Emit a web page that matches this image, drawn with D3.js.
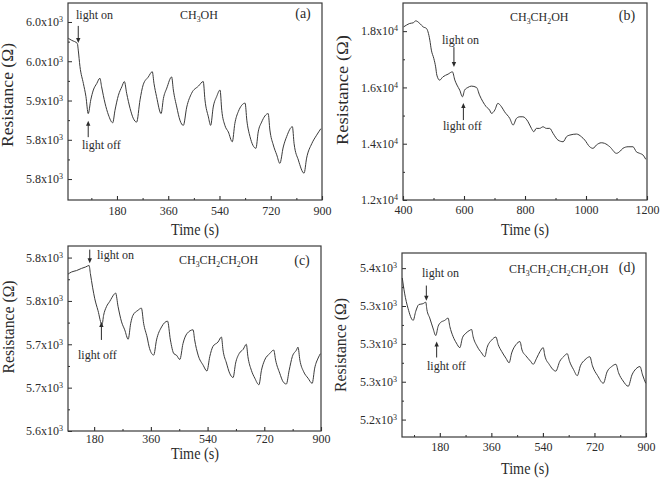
<!DOCTYPE html>
<html><head><meta charset="utf-8">
<script src="https://cdn.jsdelivr.net/npm/d3@7"></script>
<style>html,body{margin:0;padding:0;background:#fff}svg{display:block}</style>
</head><body><svg id="chart" width="661" height="478"></svg>
<script>
// ---------- data (a) CH3OH ----------
const timeA = [9,21,41,44,50,62,71,79,88,97,109,120,126,138,150,165,173,185,197,206,214,226,237,249,261,272,290,304,310,319,335,343,355,372,378,390,401,413,425,442,466,483,489,501,509,518,530,542,548,559,571,585,594,606,630,636,647,668,676,688,711,717,729,741,752,764,776,796,802,817,837,846,864,881,896];
const resA = [5995,5992,5987,5977,5952,5926,5906,5880,5901,5916,5926,5934,5921,5896,5878,5866,5885,5908,5921,5929,5911,5888,5873,5867,5901,5924,5936,5944,5926,5906,5880,5903,5919,5936,5916,5890,5870,5862,5890,5911,5922,5929,5901,5875,5862,5890,5906,5916,5885,5862,5852,5837,5865,5883,5896,5870,5845,5827,5852,5867,5880,5855,5832,5817,5804,5829,5845,5860,5834,5809,5789,5812,5834,5847,5857];
const xTicksA = [180,360,540,720,900];
const xMinorA = [90,270,450,630,810];
const yTicksA = [5780,5840,5900,5960,6020];
const yLabelsA = ["5.8","5.8","5.9","6.0","6.0"];
const yMinorA = [5810,5870,5930,5990];

// ---------- data (b) CH3CH2OH ----------
const timeB = [402,411,422,433,442,455,466,477,482,488,493,501,507,511,520,531,548,562,570,577,586,595,602,613,624,641,651,662,673,684,690,701,711,723,733,750,761,772,783,793,810,821,829,837,848,859,870,881,892,908,925,936,947,969,985,996,1012,1023,1034,1050,1061,1078,1100,1110,1121,1138,1154,1165,1176,1187,1196];
const resB = [18152,18212,18273,18294,18365,18273,18152,18095,17975,17680,17325,17030,16732,16437,16260,16377,16473,16555,16260,16083,15905,15667,15905,16000,16047,16000,15727,15490,15312,15195,15078,15195,15433,15312,15135,14900,14662,14900,14957,14957,14780,14545,14425,14545,14545,14602,14545,14545,14368,14130,14070,14247,14307,14343,14247,14130,13892,13835,13952,14034,14013,13892,13658,13715,13835,13892,13892,13715,13658,13597,13445];
const xTicksB = [400,600,800,1000,1200];
const xMinorB = [500,700,900,1100];
const yTicksB = [12000,14000,16000,18000];
const yLabelsB = ["1.2","1.4","1.6","1.8"];
const yMinorB = [13000,15000,17000];

// ---------- data (c) CH3CH2CH2OH ----------
const timeC = [97,108,124,140,153,164,168,175,182,192,205,210,219,229,245,248,256,267,277,288,296,303,319,330,337,348,356,369,378,394,413,422,433,441,452,462,475,494,499,510,526,538,547,557,573,584,589,600,610,621,629,640,653,663,668,679,690,703,711,721,737,750,756,769,780,790,799,809,822,827,833,845,859,872,880,891,898];
const resC = [5817,5820,5822,5825,5827,5829,5818,5799,5783,5767,5747,5760,5772,5779,5790,5791,5772,5751,5740,5727,5749,5760,5767,5770,5749,5730,5714,5705,5726,5744,5752,5726,5707,5705,5699,5721,5735,5740,5726,5705,5691,5683,5703,5717,5723,5730,5712,5694,5680,5674,5694,5707,5713,5720,5703,5684,5673,5664,5684,5698,5707,5712,5698,5680,5668,5665,5684,5703,5712,5716,5698,5682,5673,5666,5687,5701,5707];
const xTicksC = [180,360,540,720,900];
const xMinorC = [270,450,630,810];
const yTicksC = [5600,5660,5720,5780,5840];
const yLabelsC = ["5.6","5.7","5.7","5.8","5.8"];
const yMinorC = [5630,5690,5750,5810];

// ---------- data (d) CH3CH2CH2CH2OH ----------
const timeD = [49,57,69,87,96,107,121,131,135,145,156,166,174,182,197,209,215,226,238,250,259,271,285,291,296,310,326,337,345,361,376,384,396,411,422,431,446,460,467,481,497,506,518,530,541,547,562,585,599,612,625,633,647,660,671,687,704,713,731,751,764,780,795,804,820,838,851,865,879,888,899];
const resD = [5387,5367,5347,5331,5343,5352,5353,5355,5345,5334,5321,5311,5323,5328,5331,5334,5323,5310,5301,5295,5308,5314,5318,5319,5310,5297,5288,5283,5295,5305,5309,5299,5290,5281,5275,5288,5299,5303,5292,5284,5277,5273,5281,5290,5295,5284,5273,5264,5277,5283,5287,5277,5266,5258,5271,5279,5283,5271,5258,5248,5263,5270,5273,5262,5251,5244,5259,5267,5270,5259,5248];
const xTicksD = [180,360,540,720,900];
const xMinorD = [90,270,450,630,810];
const yTicksD = [5200,5250,5300,5350,5400];
const yLabelsD = ["5.2","5.3","5.3","5.3","5.4"];
const yMinorD = [5225,5275,5325,5375];

// annotation arrows in data units: [time, fromValue, toValue(tip)]
const arrowsA = [[44,6014,5988],[79,5844,5869]];
const arrowsB = [[567,17432,16722],[598,14840,15444]];
const arrowsC = [[166,5851,5832],[203,5726,5751]];
const arrowsD = [[133,5377,5357],[169,5282,5303]];

const FONT = "'Liberation Serif','Times New Roman',serif";
const INK = "#2b2b2b";
const svg = d3.select("#chart");
svg.append("rect").attr("width",661).attr("height",478).attr("fill","#fff");

function addRich(g, parts, x, y, size, anchor){
  const t = g.append("text").attr("x",x).attr("y",y).attr("font-family",FONT)
    .attr("font-size",size).attr("fill",INK).attr("text-anchor",anchor||"start");
  let shifted = false;
  parts.forEach(p=>{
    const isSub = /^[0-9]$/.test(p);
    const ts = t.append("tspan").text(p);
    if(isSub){ ts.attr("font-size",size*0.65).attr("dy", shifted?0:3); shifted=true; }
    else { if(shifted){ ts.attr("dy",-3); shifted=false; } }
  });
  return t;
}

function drawPanel(p){
  const x = d3.scaleLinear().domain(p.xDomain).range([p.left,p.right]);
  const y = d3.scaleLinear().domain(p.yDomain).range([p.bottom,p.top]);
  const g = svg.append("g");

  // x axis major
  const ax = g.append("g").attr("transform",`translate(0,${p.bottom})`)
    .call(d3.axisBottom(x).tickValues(p.xTicks).tickSize(-4).tickPadding(p.xPad).tickFormat(d3.format("d")));
  ax.select(".domain").remove();
  ax.attr("font-family",FONT).attr("font-size",12).attr("color",INK);
  ax.selectAll(".tick line").attr("stroke-width",1.1);
  const axm = g.append("g").attr("transform",`translate(0,${p.bottom})`)
    .call(d3.axisBottom(x).tickValues(p.xMinor).tickSize(-2).tickFormat(""));
  axm.select(".domain").remove(); axm.attr("color",INK);

  // y axis major
  const ay = g.append("g").attr("transform",`translate(${p.left},0)`)
    .call(d3.axisLeft(y).tickValues(p.yTicks).tickSize(-4).tickPadding(5));
  ay.select(".domain").remove();
  ay.attr("font-family",FONT).attr("font-size",12).attr("color",INK);
  ay.selectAll(".tick text").each(function(d,i){
    const t = d3.select(this); t.text(null);
    t.append("tspan").text(p.yLabels[i]+"x10");
    t.append("tspan").attr("dy","-0.5em").attr("font-size",8).text(p.yExp);
  });
  const aym = g.append("g").attr("transform",`translate(${p.left},0)`)
    .call(d3.axisLeft(y).tickValues(p.yMinor).tickSize(-2).tickFormat(""));
  aym.select(".domain").remove(); aym.attr("color",INK);

  // frame
  g.append("rect").attr("x",p.left).attr("y",p.top).attr("width",p.right-p.left)
    .attr("height",p.bottom-p.top).attr("fill","none").attr("stroke","#3a3a3a").attr("stroke-width",1.2);

  // data line
  const pts = p.time.map((t,i)=>[t,p.res[i]]);
  g.append("path").datum(pts).attr("fill","none").attr("stroke","#3a3a3a").attr("stroke-width",1)
    .attr("stroke-linejoin","round")
    .attr("d", d3.line().curve(d3.curveMonotoneX).x(d=>x(d[0])).y(d=>y(d[1])));

  // arrows
  p.arrows.forEach(a=>{
    const ax0 = x(a[0]), y0 = y(a[1]), y1 = y(a[2]);
    const dir = y1>y0 ? 1 : -1;
    g.append("line").attr("x1",ax0).attr("x2",ax0).attr("y1",y0).attr("y2",y1-dir*4)
      .attr("stroke",INK).attr("stroke-width",1);
    g.append("path").attr("d",`M${ax0-2.2},${y1-dir*5}L${ax0+2.2},${y1-dir*5}L${ax0},${y1}Z`).attr("fill",INK);
  });

  // annotation texts
  g.append("text").attr("x",p.onPos[0]).attr("y",p.onPos[1]).attr("font-family",FONT)
    .attr("font-size",12).attr("fill",INK).text("light on");
  g.append("text").attr("x",p.offPos[0]).attr("y",p.offPos[1]).attr("font-family",FONT)
    .attr("font-size",12).attr("fill",INK).text("light off");
  addRich(g, p.formula, p.formPos[0], p.formPos[1], 12, "start");
  g.append("text").attr("x",p.tagPos[0]).attr("y",p.tagPos[1]).attr("font-family",FONT)
    .attr("font-size",14).attr("fill",INK).attr("text-anchor","middle").text(p.tag);

  // axis titles
  g.append("text").attr("x",p.xTitle[0]).attr("y",p.xTitle[1]).attr("font-family",FONT)
    .attr("font-size",16).attr("fill",INK).attr("text-anchor","middle")
    .attr("textLength",48).attr("lengthAdjust","spacingAndGlyphs").text("Time (s)");
  g.append("text").attr("transform",`translate(${p.yTitle[0]},${p.yTitle[1]}) rotate(-90)`)
    .attr("font-family",FONT).attr("font-size",16).attr("fill",INK).attr("text-anchor","middle")
    .attr("textLength",p.yTitle[2]).attr("lengthAdjust","spacingAndGlyphs").text("Resistance (Ω)");
}

drawPanel({time:timeA,res:resA,xDomain:[8,900],yDomain:[5748,6049],left:68,right:322,top:3,bottom:200,xPad:6,
  xTicks:xTicksA,xMinor:xMinorA,yTicks:yTicksA,yLabels:yLabelsA,yMinor:yMinorA,yExp:"3",
  arrows:arrowsA,onPos:[76,19],offPos:[82,149],formula:["CH","3","OH"],formPos:[180,19],
  tag:"(a)",tagPos:[303,18],xTitle:[195,235],yTitle:[13,95,104]});
drawPanel({time:timeB,res:resB,xDomain:[400,1200],yDomain:[12000,19000],left:403,right:647,top:3,bottom:200,xPad:5,
  xTicks:xTicksB,xMinor:xMinorB,yTicks:yTicksB,yLabels:yLabelsB,yMinor:yMinorB,yExp:"4",
  arrows:arrowsB,onPos:[442,44],offPos:[443,130],formula:["CH","3","CH","2","OH"],formPos:[510,21],
  tag:"(b)",tagPos:[627,20],xTitle:[525,235],yTitle:[348,90,110]});
drawPanel({time:timeC,res:resC,xDomain:[97,900],yDomain:[5600,5856],left:68,right:321,top:246,bottom:431,xPad:3,
  xTicks:xTicksC,xMinor:xMinorC,yTicks:yTicksC,yLabels:yLabelsC,yMinor:yMinorC,yExp:"3",
  arrows:arrowsC,onPos:[97,259],offPos:[78,359],formula:["CH","3","CH","2","CH","2","OH"],formPos:[179,264],
  tag:"(c)",tagPos:[302,265],xTitle:[195,459],yTitle:[14,327,93]});
drawPanel({time:timeD,res:resD,xDomain:[48,900],yDomain:[5177,5420],left:402,right:646,top:253,bottom:437,xPad:5,
  xTicks:xTicksD,xMinor:xMinorD,yTicks:yTicksD,yLabels:yLabelsD,yMinor:yMinorD,yExp:"3",
  arrows:arrowsD,onPos:[422,277],offPos:[427,370],formula:["CH","3","CH","2","CH","2","CH","2","OH"],formPos:[509,273],
  tag:"(d)",tagPos:[627,272],xTitle:[525,474],yTitle:[346,345,94]});
</script>
</body></html>
